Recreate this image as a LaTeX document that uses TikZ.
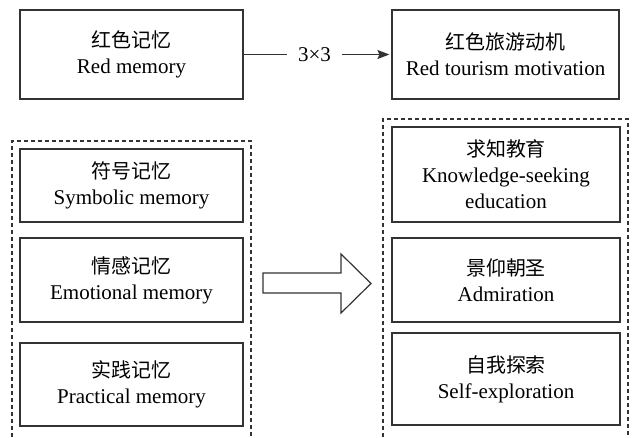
\documentclass[tikz,border=0pt]{standalone}
\usepackage{fontspec}
\setmainfont{Liberation Serif}
\newfontfamily\cjk[Scale=0.95]{Noto Sans CJK SC}
\usepackage{tikz}
\usetikzlibrary{arrows.meta}

\begin{document}
\begin{tikzpicture}[x=1pt, y=-1pt,
  box/.style={draw=black!80, line width=1.2pt, align=center, inner sep=0pt,
    font=\fontsize{21}{26}\selectfont},
  group/.style={draw=black!80, line width=1.1pt, dash pattern=on 4pt off 3pt}]

\useasboundingbox (0,0) rectangle (632,437);

% Top row
\node[box, minimum width=223pt, minimum height=89pt] (memory) at (131.5,54.5) {{\cjk 红色记忆}\\Red memory};
\node[box, minimum width=227pt, minimum height=89pt] (motive) at (505.5,54.5) {{\cjk 红色旅游动机}\\Red tourism motivation};

\draw[line width=1.2pt, draw=black!80, -{Stealth[length=12pt,width=9pt,inset=2pt]}, shorten >=2pt]
  (memory) -- node[pos=0.48, fill=white, inner xsep=11pt, font=\fontsize{21}{25}\selectfont] (times) {3×3} (motive);

% Dashed groups
\draw[group] (12,437) -- (12,141) -- (251,141) -- (251,437);
\draw[group] (383,437) -- (383,119) -- (628,119) -- (628,437);

% Memory types
\node[box, minimum width=223pt, minimum height=73pt] (symbolic) at (131.5,185.5) {{\cjk 符号记忆}\\Symbolic memory};
\node[box, minimum width=223pt, minimum height=84pt] (emotional) at (131.5,280) {{\cjk 情感记忆}\\Emotional memory};
\node[box, minimum width=223pt, minimum height=83pt] (practical) at (131.5,384.5) {{\cjk 实践记忆}\\Practical memory};

% Motivation types
\node[box, minimum width=228pt, minimum height=95pt] (knowledge) at (506,174.5) {{\cjk 求知教育}\\Knowledge-seeking\\education};
\node[box, minimum width=228pt, minimum height=84pt] (admiration) at (506,280) {{\cjk 景仰朝圣}\\Admiration};
\node[box, minimum width=228pt, minimum height=92pt] (selfexp) at (506,379) {{\cjk 自我探索}\\Self-exploration};

% Hollow arrow
\draw[line width=1.2pt, draw=black!80] (263,273) -- (341,273) -- (341,254) -- (371,283.5)
  -- (341,313) -- (341,293) -- (263,293) -- cycle;

\end{tikzpicture}
\end{document}
